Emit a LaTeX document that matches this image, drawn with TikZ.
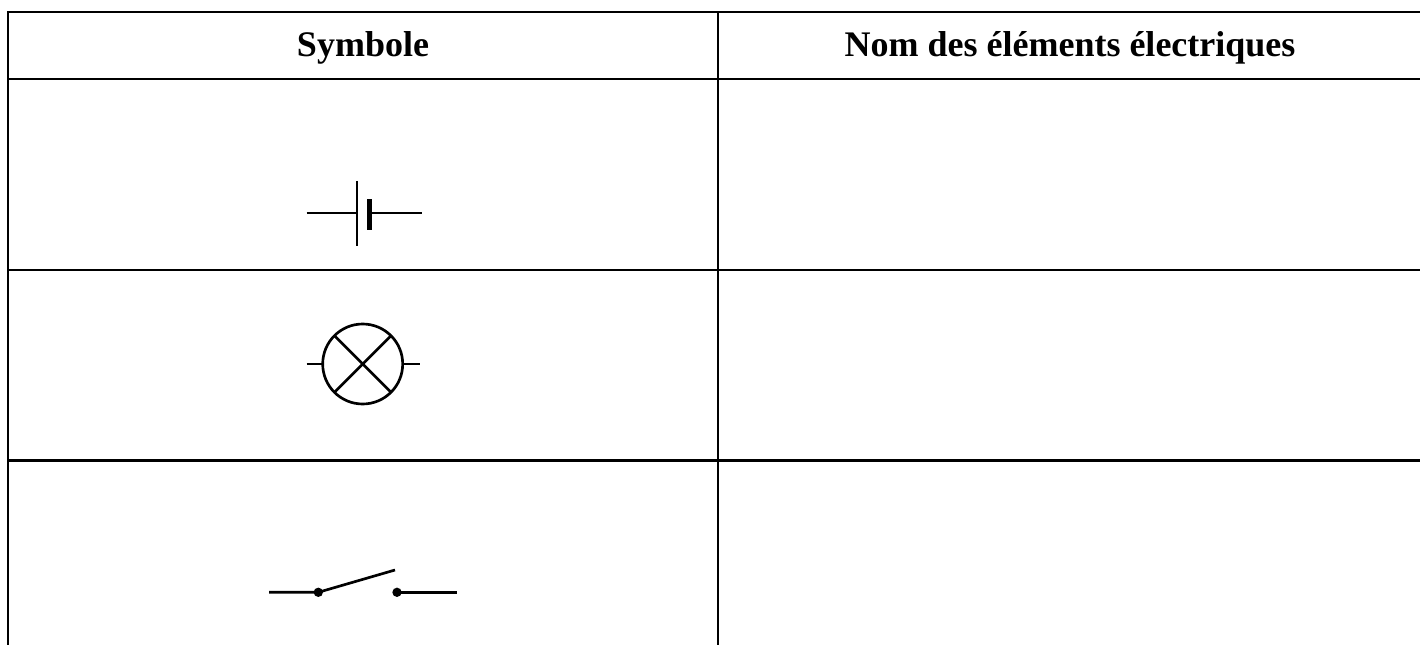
\documentclass[tikz,border=0pt]{standalone}
\usepackage{fontspec}
\setmainfont{Liberation Serif}
\begin{document}
\begin{tikzpicture}[x=0.75pt,y=-0.75pt,
  grid/.style={line width=1.65pt},
  wire/.style={line width=1.3pt},
  sym/.style={line width=2pt},
  head/.style={font=\fontsize{27}{32}\selectfont\bfseries, inner sep=0pt, anchor=base}]
\useasboundingbox (0,0) rectangle (1420,645);
% table grid
\draw[grid] (1420,12) -- (8,12) -- (8,645);
\draw[grid] (8,79) -- (1420,79);
\draw[grid] (8,270) -- (1420,270);
\draw[grid] (8,460.5) -- (1420,460.5);
\draw[grid] (718,12) -- (718,645);
% headers
\node[head] (h1) at (363,57) {Symbole};
\node[head] (h2) at (1070,57) {Nom des éléments électriques};
% battery
\draw[wire] (306.5,213.3) -- (356,213.3);
\draw[wire] (357,181) -- (357,246);
\draw[line width=3.6pt] (369.3,199.5) -- (369.3,230);
\draw[wire] (370.5,213.3) -- (421.5,213.3);
% lamp
\coordinate (lc) at (362.7,364);
\draw[sym] (lc) circle[radius=30pt];
\draw[sym] (lc) ++(45:30pt) -- ++(225:60pt);
\draw[sym] (lc) ++(135:30pt) -- ++(315:60pt);
\draw[sym] (306.5,364) -- (322.7,364);
\draw[sym] (402.7,364) -- (419.5,364);
% switch
\coordinate (s1) at (318.3,592.3);
\coordinate (s2) at (397,592.3);
\draw[sym] (269,592.3) -- (s1) -- (395,570);
\draw[sym] (s2) -- (457.3,592.3);
\fill (s1) circle[radius=3.5pt];
\fill (s2) circle[radius=3.5pt];
\end{tikzpicture}
\end{document}
